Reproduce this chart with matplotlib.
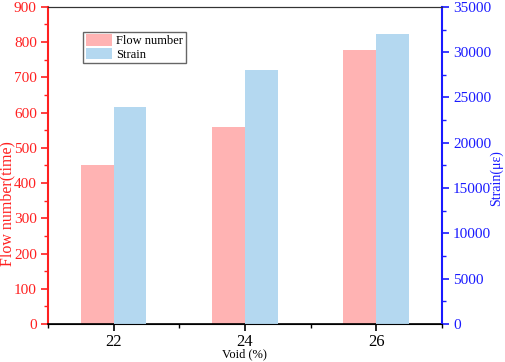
import matplotlib
matplotlib.use('Agg')
import matplotlib.pyplot as plt
from matplotlib.ticker import MultipleLocator

plt.rcParams['font.family'] = ['Liberation Serif', 'DejaVu Serif']

voids = [22, 24, 26]
flow_number = [450, 558, 778]
strain = [24000, 28000, 32000]

fig = plt.figure(figsize=(5.05, 3.62), dpi=100)
ax = fig.add_axes([0.095, 0.105, 0.78, 0.876])
ax2 = ax.twinx()

w = 0.5
b1 = ax.bar([v - w / 2 for v in voids], flow_number, width=w, color='#ffb3b3', label='Flow number')
b2 = ax2.bar([v + w / 2 for v in voids], strain, width=w, color='#b4d8f0', label='Strain')

ax.set_xlim(21, 27)
ax.set_ylim(0, 900)
ax2.set_ylim(0, 35000)
ax.set_xticks(voids)
ax.xaxis.set_minor_locator(MultipleLocator(1))
ax.yaxis.set_major_locator(MultipleLocator(100))
ax.yaxis.set_minor_locator(MultipleLocator(50))
ax2.yaxis.set_major_locator(MultipleLocator(5000))
ax2.yaxis.set_minor_locator(MultipleLocator(2500))

red = '#ff2020'
blue = '#1a1aff'
ax.spines['left'].set_color(red)
ax.spines['left'].set_linewidth(1.5)
ax2.spines['left'].set_visible(False)
ax2.spines['right'].set_color(blue)
ax2.spines['right'].set_linewidth(1.5)
ax.spines['right'].set_visible(False)
ax.spines['top'].set_color('#333333')
ax2.spines['top'].set_color('#333333')
ax.spines['bottom'].set_linewidth(1.2)

ax.tick_params(axis='y', which='both', colors=red, labelsize=11, pad=3)
ax.tick_params(axis='y', which='major', length=5, width=1.2)
ax.tick_params(axis='y', which='minor', length=3, width=1)
ax2.tick_params(axis='y', which='both', colors=blue, labelsize=11, pad=3)
ax2.tick_params(axis='y', which='major', length=5, width=1.2)
ax2.tick_params(axis='y', which='minor', length=3, width=1)
ax.tick_params(axis='x', which='major', length=5, width=1.2, labelsize=12, pad=2)
ax.tick_params(axis='x', which='minor', length=3, width=1)

ax.set_ylabel('Flow number(time)', color=red, fontsize=11.5)
ax.yaxis.set_label_coords(-0.083, 0.38)
ax2.set_ylabel('Strain(με)', color=blue, fontsize=10)
ax2.yaxis.set_label_coords(1.122, 0.46)
ax.set_xlabel('Void (%)', fontsize=9, labelpad=-1)

ax.legend([b1, b2], ['Flow number', 'Strain'], loc='upper left',
          bbox_to_anchor=(0.089, 0.921), fontsize=9, fancybox=False,
          edgecolor='#666666', framealpha=1, borderpad=0.2,
          handlelength=2.1, handleheight=1.0, handletextpad=0.35,
          labelspacing=0.05, borderaxespad=0)

fig.savefig('out.png', dpi=100)
